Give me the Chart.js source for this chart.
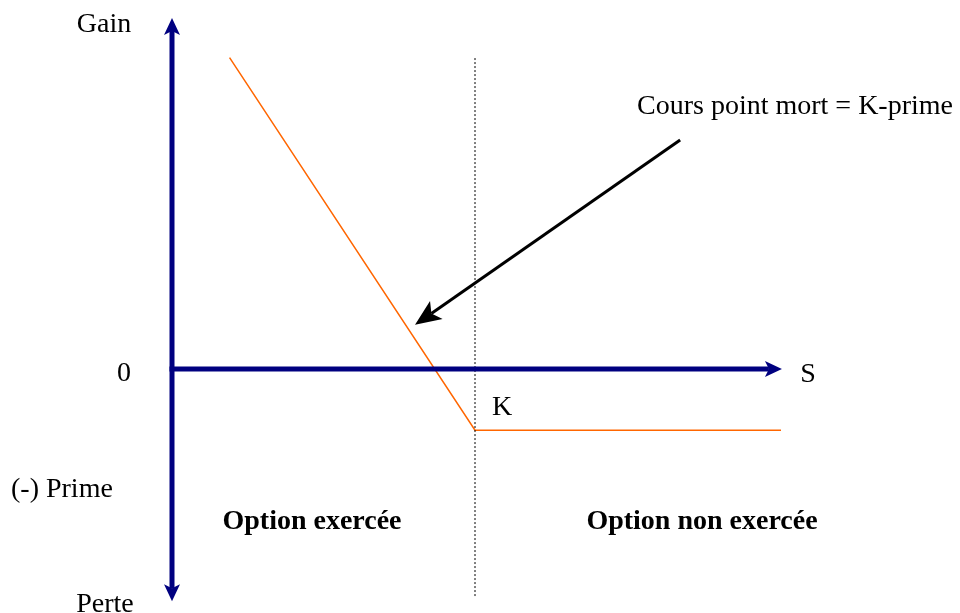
<!DOCTYPE html>
<html>
<head>
<meta charset="utf-8">
<script src="https://cdn.jsdelivr.net/npm/chart.js@4/dist/chart.umd.min.js"></script>
<style>
html,body{margin:0;padding:0;background:#fff;}
canvas{display:block;}
</style>
</head>
<body>
<canvas id="c" width="960" height="613"></canvas>
<script>
// Long put payoff (values in arbitrary units)
const STRIKE = 100;
const PREMIUM = 13.3;
const S_VALUES = [19, 100, 201];
const PAYOFF = [67.7, -13.3, -13.3];
const DOTTED_S = [100, 100];
const DOTTED_Y = [67.6, -49.8];
const X_AXIS_END = 201.3;
const Y_AXIS_TOP = 76.3;
const Y_AXIS_BOTTOM = -50.5;
const NOTE_FROM = [167.7, 49.8];
const NOTE_TO = [80.2, 9.6];

const NAVY = '#000080';
const ORANGE = '#FF6600';
const FONT = '"Liberation Serif", "Times New Roman", serif';

function arrowHead(ctx, tx, ty, ang, len, half, notch, color) {
  ctx.save();
  ctx.translate(tx, ty);
  ctx.rotate(ang);
  ctx.beginPath();
  ctx.moveTo(0, 0);
  ctx.lineTo(-len, -half);
  ctx.lineTo(-len + notch, 0);
  ctx.lineTo(-len, half);
  ctx.closePath();
  ctx.fillStyle = color;
  ctx.fill();
  ctx.restore();
}

function arrow(ctx, x1, y1, x2, y2, width, len, half, notch, color) {
  const ang = Math.atan2(y2 - y1, x2 - x1);
  const stop = len - notch;
  ctx.save();
  ctx.strokeStyle = color;
  ctx.lineWidth = width;
  ctx.lineCap = 'butt';
  ctx.beginPath();
  ctx.moveTo(x1, y1);
  ctx.lineTo(x2 - Math.cos(ang) * stop, y2 - Math.sin(ang) * stop);
  ctx.stroke();
  ctx.restore();
  arrowHead(ctx, x2, y2, ang, len, half, notch, color);
}

const decor = {
  id: 'decor',
  afterDatasetsDraw(chart) {
    const ctx = chart.ctx;
    const xs = chart.scales.x, ys = chart.scales.y;
    const px = v => xs.getPixelForValue(v);
    const py = v => ys.getPixelForValue(v);
    const ax = px(0);
    const ay = py(0);
    arrow(ctx, ax, py(0), ax, py(Y_AXIS_TOP), 5, 17, 8, 4, NAVY);
    arrow(ctx, ax, py(0), ax, py(Y_AXIS_BOTTOM), 5, 17, 8, 4, NAVY);
    arrow(ctx, ax - 2.5, ay, px(X_AXIS_END), ay, 5, 17, 8, 4, NAVY);
    arrow(ctx, px(NOTE_FROM[0]), py(NOTE_FROM[1]), px(NOTE_TO[0]), py(NOTE_TO[1]), 3, 26, 11, 6, '#000');

    ctx.save();
    ctx.fillStyle = '#000';
    ctx.textBaseline = 'alphabetic';
    ctx.font = '28px ' + FONT;
    ctx.textAlign = 'center';
    ctx.fillText('Gain', 104, 32);
    ctx.fillText('0', 124, 381);
    ctx.fillText('S', 808, 382);
    ctx.fillText('K', 502, 415);
    ctx.fillText('Perte', 105, 612);
    ctx.textAlign = 'left';
    ctx.fillText('(-) Prime', 11, 497);
    ctx.fillText('Cours point mort = K-prime', 637, 114);
    ctx.font = 'bold 28px ' + FONT;
    ctx.textAlign = 'center';
    ctx.fillText('Option exercée', 312, 529);
    ctx.fillText('Option non exercée', 702, 529);
    ctx.restore();
  }
};

const xMin = -172 / 3.03, xMax = xMin + 960 / 3.03;
const yMax = 369 / 4.6, yMin = yMax - 613 / 4.6;

new Chart(document.getElementById('c'), {
  type: 'scatter',
  data: {
    datasets: [
      {
        label: 'Dotted',
        data: DOTTED_S.map((s, i) => ({x: s, y: DOTTED_Y[i]})),
        showLine: true,
        borderColor: '#000',
        borderWidth: 1,
        borderDash: [2, 2],
        pointRadius: 0,
        fill: false
      },
      {
        label: 'Payoff',
        data: S_VALUES.map((s, i) => ({x: s, y: PAYOFF[i]})),
        showLine: true,
        borderColor: ORANGE,
        borderWidth: 1.5,
        pointRadius: 0,
        tension: 0,
        fill: false
      }
    ]
  },
  options: {
    responsive: false,
    animation: false,
    layout: {padding: 0},
    plugins: {legend: {display: false}, tooltip: {enabled: false}},
    scales: {
      x: {type: 'linear', display: false, min: xMin, max: xMax},
      y: {type: 'linear', display: false, min: yMin, max: yMax}
    }
  },
  plugins: [decor]
});
</script>
</body>
</html>
